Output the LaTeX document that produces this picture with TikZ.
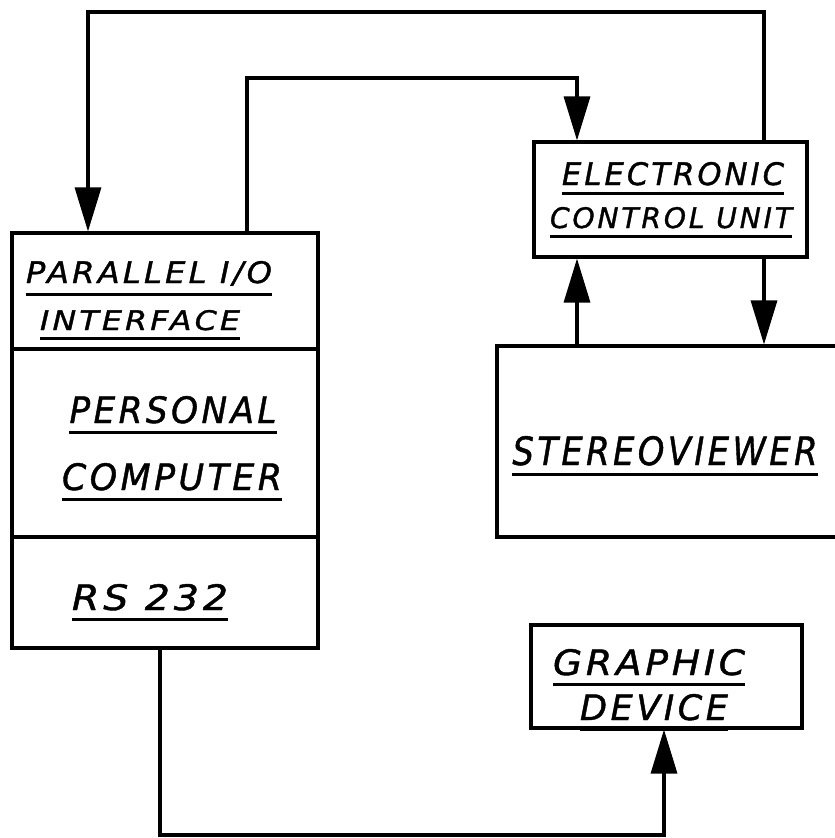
\documentclass[tikz,border=0pt]{standalone}
\usepackage{fontspec}
\usepackage{graphicx}
\usetikzlibrary{arrows.meta}
\newfontfamily\handfont{DejaVu Sans}[LetterSpace=10,FakeBold=1.2]
% underlined hand lettering, scaled to width and cap height
\newcommand{\handul}[1]{\vtop{\hbox{#1}\kern7pt\hrule height 3pt}}
\newcommand{\hand}[3]{\handul{\resizebox{#1}{#2}{\handfont\itshape #3}}}

\begin{document}
\begin{tikzpicture}[x=1pt,y=-1pt,
  box/.style={draw, line width=3.1pt, inner sep=0pt},
  lbl/.style={anchor=base, inner sep=0pt},
  flow/.style={line width=3.2pt, -{Triangle[length=44pt,width=26pt]}}]
  \useasboundingbox (0,0) rectangle (835,838);
  % boxes
  \node[box, minimum width=306pt, minimum height=116pt] (iface) at (165,291) {};
  \node[box, minimum width=306pt, minimum height=188pt] (pc) at (165,443) {};
  \node[box, minimum width=306pt, minimum height=111pt] (rs) at (165,592.5) {};
  \node[box, minimum width=273pt, minimum height=115pt] (ecu) at (670.5,199.5) {};
  \node[box, minimum width=353pt, minimum height=191pt] (stereo) at (673.5,441.5) {};
  \node[box, minimum width=271pt, minimum height=103pt] (gdev) at (666.5,676.5) {};
  % labels
  \node[lbl] (t1) at (149,283) {\hand{246pt}{22pt}{PARALLEL I/O}};
  \node[lbl] (t2) at (140,330) {\hand{200pt}{20pt}{INTERFACE}};
  \node[lbl] (t3) at (173,423) {\hand{207pt}{27pt}{PERSONAL}};
  \node[lbl] (t4) at (172,490) {\hand{220pt}{27pt}{COMPUTER}};
  \node[lbl] (t5) at (150,610) {\hand{156pt}{26pt}{RS 232}};
  \node[lbl] (t6) at (673,185) {\hand{222pt}{23pt}{ELECTRONIC}};
  \node[lbl] (t7) at (671,228) {\hand{242pt}{21pt}{CONTROL UNIT}};
  \node[lbl] (t8) at (665,465) {\hand{305pt}{29pt}{STEREOVIEWER}};
  \node[lbl] (t9) at (649,675) {\hand{192pt}{26pt}{GRAPHIC}};
  \node[lbl] (t10) at (654,720) {\hand{148pt}{26pt}{DEVICE}};
  % routing
  \coordinate (top) at (0,12);
  \coordinate (mid) at (0,78);
  \coordinate (bot) at (0,835);
  \coordinate (xa) at (88,0);
  \coordinate (xb) at (247,0);
  \coordinate (xc) at (577,0);
  \coordinate (xd) at (764,0);
  \coordinate (xe) at (160,0);
  \coordinate (xf) at (664,0);
  % connectors
  \draw[flow] (ecu.north -| xd) -- (xd |- top) -- (xa |- top) -- (iface.north -| xa);
  \draw[flow] (iface.north -| xb) -- (xb |- mid) -- (xc |- mid) -- (ecu.north -| xc);
  \draw[flow] (stereo.north -| xc) -- (ecu.south -| xc);
  \draw[flow] (ecu.south -| xd) -- (stereo.north -| xd);
  \draw[flow] (rs.south -| xe) -- (xe |- bot) -- (xf |- bot) -- (gdev.south -| xf);
\end{tikzpicture}
\end{document}
